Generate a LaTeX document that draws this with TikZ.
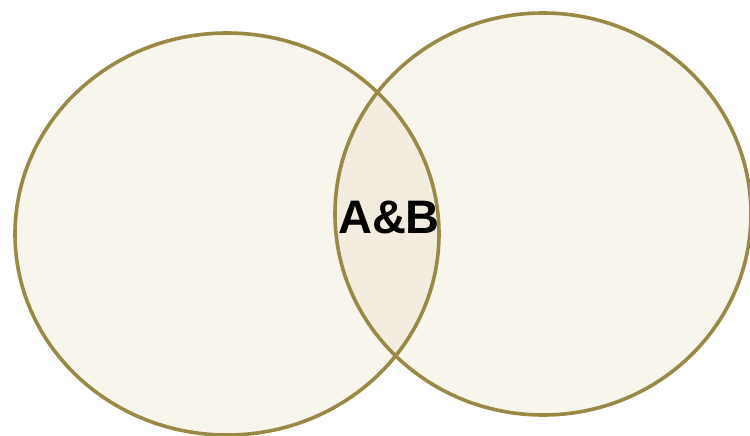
\documentclass[tikz,border=0pt]{standalone}
\usepackage{fontspec}
\setmainfont{Liberation Sans}
\definecolor{ring}{HTML}{9A8845}
\definecolor{pale}{HTML}{F8F5EC}
\definecolor{overlap}{HTML}{F3EDDF}
\begin{document}
\begin{tikzpicture}[x=1pt,y=-1pt,
  setshape/.style={draw=ring,line width=3.6pt}]
\useasboundingbox (0,0) rectangle (750,436);
\fill[pale] (227,234) ellipse [x radius=212,y radius=201];
\fill[pale] (543,214) ellipse [x radius=208,y radius=201];
\begin{scope}
\clip (227,234) ellipse [x radius=212,y radius=201];
\fill[overlap] (543,214) ellipse [x radius=208,y radius=201];
\end{scope}
\draw[setshape] (227,234) ellipse [x radius=212,y radius=201];
\draw[setshape] (543,214) ellipse [x radius=208,y radius=201];
\node[font=\fontsize{47}{50}\selectfont\bfseries] (ab) at (389,217) {A\&B};
\end{tikzpicture}
\end{document}
